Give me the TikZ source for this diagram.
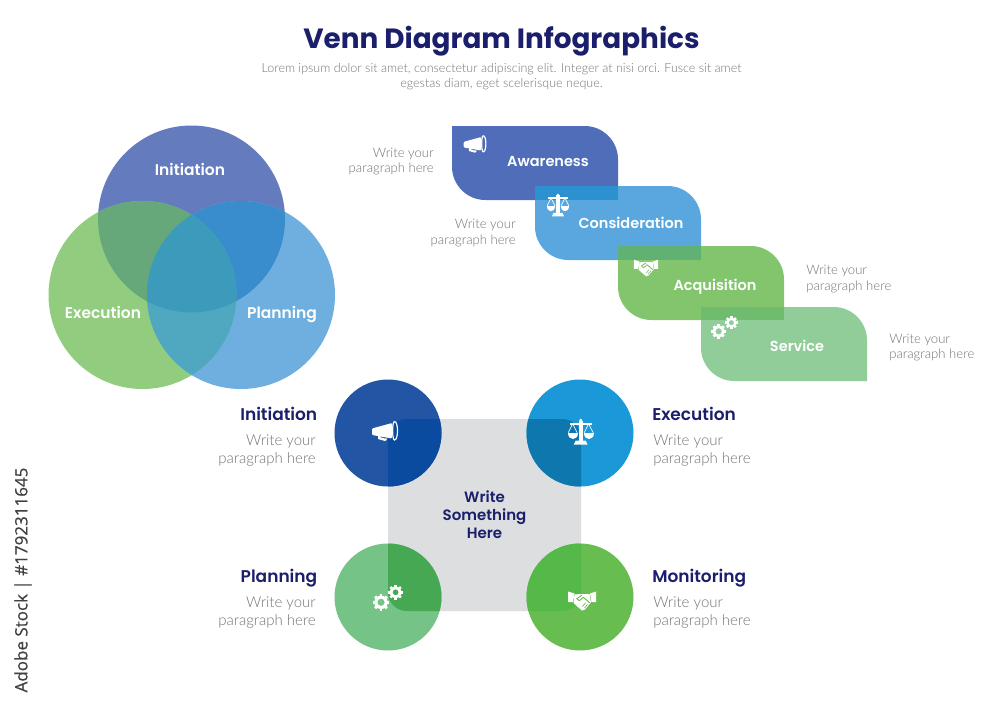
\documentclass[tikz,border=0pt]{standalone}
\usepackage{fontspec}
\setmainfont{Lato Light}
\newfontfamily\popfont{Poppins SemiBold}
\newfontfamily\popbold{Poppins Bold}
\newfontfamily\sidefont[FakeBold=0.5]{Open Sans}
\newcommand{\pxfont}[2]{\fontsize{\dimexpr#1pt*3/4\relax}{\dimexpr#2pt*3/4\relax}\selectfont}
\definecolor{navy}{HTML}{1B1F6B}
\definecolor{bodygray}{HTML}{727477}
\definecolor{vInit}{HTML}{647CBD}
\definecolor{vExec}{HTML}{92CC7E}
\definecolor{vPlan}{HTML}{6FAFE0}
\definecolor{vIE}{HTML}{66A87A}
\definecolor{vIP}{HTML}{3A8DCD}
\definecolor{vEP}{HTML}{50A8C0}
\definecolor{vAll}{HTML}{3C9BBB}
\definecolor{tAware}{HTML}{4F6DB8}
\definecolor{tCons}{HTML}{59A7DE}
\definecolor{tAcq}{HTML}{82C56C}
\definecolor{tServ}{HTML}{90CD99}
\definecolor{ovAC}{HTML}{2D91CF}
\definecolor{ovCQ}{HTML}{5FB274}
\definecolor{ovQS}{HTML}{6FBC6F}
\definecolor{cTL}{HTML}{2256A5}
\definecolor{cTR}{HTML}{1A98D8}
\definecolor{cBL}{HTML}{76C387}
\definecolor{cBR}{HTML}{68BD50}
\definecolor{oTL}{HTML}{0A4A9F}
\definecolor{oTR}{HTML}{0E77AD}
\definecolor{oBL}{HTML}{47A854}
\definecolor{oBR}{HTML}{54B948}
\definecolor{sq}{HTML}{DCDEE0}
\tikzset{
  x=0.75pt,y=-0.75pt,
  headtext/.style={font=\popfont\pxfont{17}{21},text=navy,inner sep=0pt},
  labeltext/.style={font=\popfont\pxfont{14.5}{18},text=white,inner sep=0pt},
  venntext/.style={font=\popfont\pxfont{15.5}{19},text=white,inner sep=0pt},
  smallpara/.style={font=\pxfont{13.1}{15.5},text=bodygray,inner sep=0pt},
  bigpara/.style={font=\pxfont{15}{18},text=bodygray,inner sep=0pt},
  megaphone/.pic={
    \fill[white,rounded corners=0.8pt] (-13,-2.5) -- (7,-8) -- (7,7.5) -- (-13,4) -- cycle;
    \fill[white] (-7,3) -- (-7,8) -- (0,10) -- (1.6,9) -- (1.6,7) -- (0,7.6) -- (-4.5,6.3) -- (-4.5,3) -- cycle;
    \draw[white,line width=0.9pt] (9.5,-9.5) .. controls (13.5,-9.5) and (13.5,9) .. (9.5,9) .. controls (7,9) and (7,-9.5) .. (9.5,-9.5);
  },
  scalesicon/.pic={
    \fill[white] (-1.8,-11) rectangle (1.8,9);
    \fill[white] (0,-11.5) circle[radius=1.6];
    \fill[white] (-7,13) -- (-5,9) -- (5,9) -- (7,13) -- cycle;
    \fill[white] (-11,-9.2) rectangle (11,-7.2);
    \draw[white,line width=0.5pt] (-8,-8) -- (-12.5,1) (-8,-8) -- (-3.5,1) (8,-8) -- (12.5,1) (8,-8) -- (3.5,1);
    \fill[white] (-12.8,1) .. controls (-12.8,9) and (-3.2,9) .. (-3.2,1) -- cycle;
    \fill[white] (3.2,1) .. controls (3.2,9) and (12.8,9) .. (12.8,1) -- cycle;
  },
  pics/handshake/.style={code={
    \fill[white] (-14,-9.5) -- (-7.5,-7.5) -- (-9,1) -- (-14,1) -- cycle;
    \fill[white] (14,-9.5) -- (8,-7.5) -- (9.5,1) -- (14,1) -- cycle;
    \fill[white] (-7.5,-6.5) -- (-1,-7) -- (7.5,-7) -- (9,1.5) -- (3,8.5) -- (0,9.5) -- (-8.5,2) -- cycle;
    \draw[#1,line width=0.7pt,line cap=round,line join=round] (8,2) -- (1.3,-3.7) -- (-2.7,-0.3) -- (-5.3,-2.3) -- (-0.3,-5.7);
    \draw[#1,line width=0.5pt] (5.5,3.5) -- (2.5,7) (3.5,1.8) -- (0.5,5.5);
  }},
  gearsicon/.pic={
    \foreach \cx/\cy/\ro/\ri/\tw in {-7.3/5/6.7/3.7/2.1, 7.3/-5/5.8/3/1.9}{
      \fill[white,even odd rule] (\cx,\cy) circle[radius=\ro] (\cx,\cy) circle[radius=\ri];
      \foreach \a in {0,45,...,315}{
        \draw[white,line width=\tw pt] (\cx,\cy) ++(\a:\ro-1) -- ++(\a:2.6);
      }
    }
  }
}
\newcommand{\ribbon}[3]{%
  \fill[#3] (#1,#2) [rounded corners=25pt] -- ++(166,0) [sharp corners] -- ++(0,74) [rounded corners=25pt] -- ++(-166,0) [sharp corners] -- cycle;}
\begin{document}
\begin{tikzpicture}
\useasboundingbox (0,0) rectangle (1000,707);
\fill[white] (0,0) rectangle (1000,707);

% title
\node[font=\popbold\pxfont{27.85}{32},text=navy,inner sep=0pt] (title) at (501.5,41.5) {Venn Diagram Infographics};
\node[font=\pxfont{12.5}{15},text=bodygray,inner sep=0pt,align=center] (subtitle) at (501.5,77) {Lorem ipsum dolor sit amet, consectetur adipiscing elit. Integer at nisi orci. Fusce sit amet\\egestas diam, eget scelerisque neque.};

% venn
\fill[vInit] (191.5,219) circle[radius=93.5];
\fill[vExec] (142.5,295) circle[radius=94];
\fill[vPlan] (241,295) circle[radius=94];
\begin{scope}
  \clip (191.5,219) circle[radius=93.5];
  \fill[vIE] (142.5,295) circle[radius=94];
  \fill[vIP] (241,295) circle[radius=94];
\end{scope}
\begin{scope}
  \clip (142.5,295) circle[radius=94];
  \fill[vEP] (241,295) circle[radius=94];
  \clip (191.5,219) circle[radius=93.5];
  \fill[vAll] (241,295) circle[radius=94];
\end{scope}
\node[venntext] (vinit) at (190,169) {Initiation};
\node[venntext] (vexec) at (103,312) {Execution};
\node[venntext] (vplan) at (282,314.5) {Planning};

% ribbons
\ribbon{452}{126}{tAware}
\ribbon{535}{186}{tCons}
\ribbon{618}{246}{tAcq}
\ribbon{701}{307}{tServ}
\fill[ovAC] (535,186) rectangle (618,200);
\fill[ovCQ] (618,246) rectangle (701,260);
\fill[ovQS] (701,307) rectangle (784,320);
\node[labeltext] (lawa) at (548,161) {Awareness};
\node[labeltext] (lcon) at (631,223) {Consideration};
\node[labeltext] (lacq) at (715,286.5) {Acquisition};
\node[labeltext] (lser) at (797,346) {Service};
\pic[scale=0.87] at (475,144) {megaphone};
\pic[scale=0.87] at (558,205) {scalesicon};
\pic[scale=0.87] at (646,268) {handshake=tAcq};
\pic[scale=0.87] at (725,327) {gearsicon};

\node[smallpara,anchor=east,align=right] (p1) at (434,161.5) {Write your\\paragraph here};
\node[smallpara,anchor=east,align=right] (p2) at (516,233) {Write your\\paragraph here};
\node[smallpara,anchor=west,align=left] (p3) at (806,279) {Write your\\paragraph here};
\node[smallpara,anchor=west,align=left] (p4) at (889,347.5) {Write your\\paragraph here};

% square and circles
\fill[sq,rounded corners=14pt] (388,419) rectangle (581,611);
\fill[cTL] (388,433) circle[radius=53.5];
\fill[cTR] (580,433) circle[radius=53.5];
\fill[cBL] (388,597) circle[radius=53.5];
\fill[cBR] (580,597) circle[radius=53.5];
\begin{scope}
  \clip[rounded corners=14pt] (388,419) rectangle (581,611);
  \fill[oTL] (388,433) circle[radius=53.5];
  \fill[oTR] (580,433) circle[radius=53.5];
  \fill[oBL] (388,597) circle[radius=53.5];
  \fill[oBR] (580,597) circle[radius=53.5];
\end{scope}
\pic at (385,431) {megaphone};
\pic at (580.7,431.7) {scalesicon};
\pic at (388.3,597.3) {gearsicon};
\pic at (582,601) {handshake=cBR};
\node[font=\popfont\pxfont{15}{18},text=navy,inner sep=0pt,align=center] (center) at (484.5,514.5) {Write\\Something\\Here};

\node[headtext,anchor=east] (h1) at (317.5,414) {Initiation};
\node[headtext,anchor=west] (h2) at (652,414) {Execution};
\node[headtext,anchor=east] (h3) at (317.5,578.5) {Planning};
\node[headtext,anchor=west] (h4) at (652,578.5) {Monitoring};
\node[bigpara,anchor=east,align=right] (b1) at (316,451) {Write your\\paragraph here};
\node[bigpara,anchor=west,align=left] (b2) at (653,451) {Write your\\paragraph here};
\node[bigpara,anchor=east,align=right] (b3) at (316,613) {Write your\\paragraph here};
\node[bigpara,anchor=west,align=left] (b4) at (653,613) {Write your\\paragraph here};

% stock id
\node[font=\sidefont\pxfont{17}{20},text=black!75,inner sep=0pt,rotate=90] (stock) at (23,580) {Adobe Stock | \#1792311645};
\end{tikzpicture}
\end{document}
